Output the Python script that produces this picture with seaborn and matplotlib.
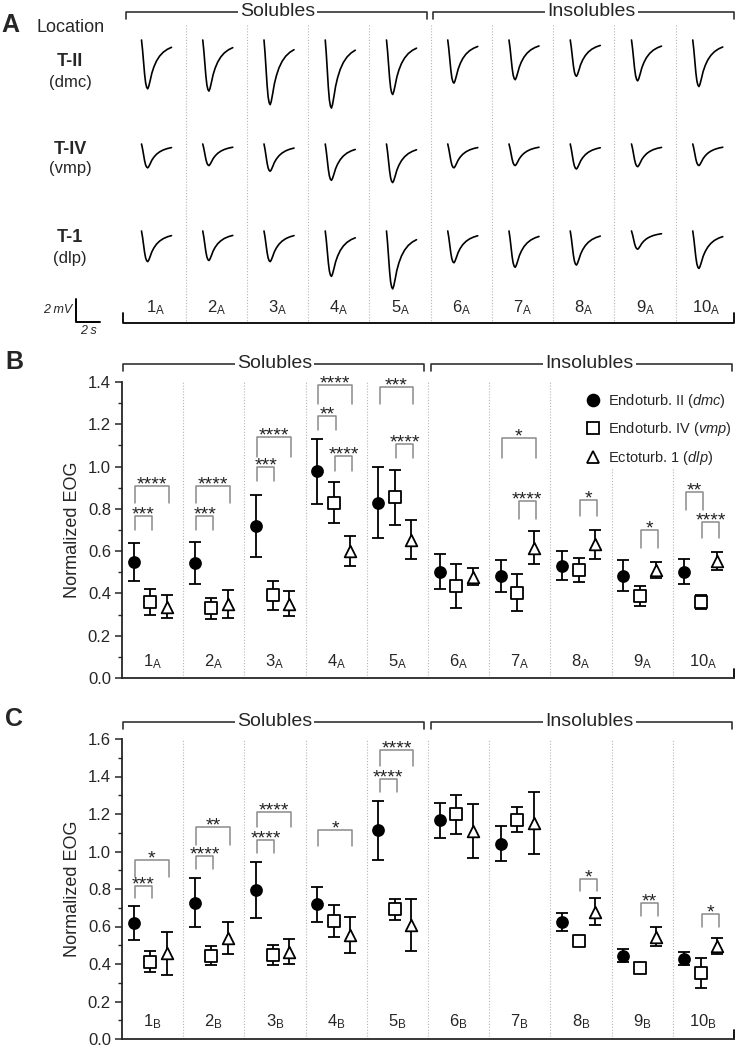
import numpy as np
import pandas as pd
import matplotlib
matplotlib.use("Agg")
import matplotlib.pyplot as plt
import seaborn as sns
from matplotlib.lines import Line2D
from matplotlib.ticker import MultipleLocator

# ---------------- data ----------------
series = ["Endoturb. II (dmc)", "Endoturb. IV (vmp)", "Ectoturb. 1 (dlp)"]
legend_labels = [r"Endoturb. II $\mathit{(dmc)}$",
                 r"Endoturb. IV $\mathit{(vmp)}$",
                 r"Ectoturb. 1 $\mathit{(dlp)}$"]
labels_A = ["1", "2", "3", "4", "5", "6", "7", "8", "9", "10"]

# panel A: EOG amplitudes (mV) of the example traces
amp_t2 = [4.3, 4.5, 5.7, 6.0, 4.8, 3.8, 3.5, 3.2, 3.6, 4.1]
amp_t4 = [2.1, 1.9, 2.4, 3.2, 3.4, 2.1, 1.9, 2.2, 2.0, 1.9]
amp_t1 = [2.7, 2.6, 2.7, 4.0, 5.1, 2.8, 3.2, 3.0, 1.6, 3.3]
# normalised shape of one EOG response (time fraction, depth fraction)
trace_t = [0, 1, 2, 3, 4, 5, 6, 7, 8.5, 10, 12, 14.5, 17.5, 21, 25, 29]
trace_v = [0, 0.2, 0.45, 0.7, 0.88, 0.97, 1.0, 0.95, 0.82, 0.68, 0.55,
           0.43, 0.33, 0.25, 0.19, 0.15]

# panel B (odorant set A): mean and SEM
b_dmc = [0.55, 0.545, 0.72, 0.977, 0.83, 0.503, 0.484, 0.531, 0.484, 0.503]
b_dmc_err = [0.09, 0.10, 0.147, 0.155, 0.17, 0.083, 0.076, 0.068, 0.074, 0.06]
b_vmp = [0.36, 0.33, 0.391, 0.83, 0.854, 0.435, 0.404, 0.511, 0.387, 0.36]
b_vmp_err = [0.06, 0.05, 0.07, 0.098, 0.128, 0.103, 0.089, 0.055, 0.048, 0.034]
b_dlp = [0.337, 0.35, 0.352, 0.60, 0.655, 0.48, 0.616, 0.632, 0.511, 0.554]
b_dlp_err = [0.055, 0.065, 0.058, 0.072, 0.09, 0.04, 0.079, 0.07, 0.04, 0.042]

# panel C (odorant set B)
c_dmc = [0.617, 0.727, 0.794, 0.718, 1.113, 1.166, 1.042, 0.622, 0.445, 0.429]
c_dmc_err = [0.09, 0.13, 0.15, 0.093, 0.158, 0.093, 0.092, 0.048, 0.035, 0.035]
c_vmp = [0.413, 0.445, 0.448, 0.631, 0.691, 1.198, 1.17, 0.525, 0.377, 0.351]
c_vmp_err = [0.055, 0.05, 0.053, 0.086, 0.058, 0.104, 0.067, 0.015, 0.012, 0.08]
c_dlp = [0.457, 0.54, 0.466, 0.555, 0.608, 1.108, 1.152, 0.679, 0.546, 0.496]
c_dlp_err = [0.115, 0.085, 0.068, 0.098, 0.137, 0.145, 0.167, 0.071, 0.05, 0.044]

# significance: (group, series a, series b, bracket top, leg bottom, stars)
sig_B = [(0, 0, 1, 0.767, 0.70, "***"), (0, 0, 2, 0.91, 0.83, "****"),
         (1, 0, 1, 0.767, 0.70, "***"), (1, 0, 2, 0.91, 0.83, "****"),
         (2, 0, 1, 1.00, 0.93, "***"), (2, 0, 2, 1.14, 1.045, "****"),
         (3, 0, 1, 1.24, 1.175, "**"), (3, 0, 2, 1.385, 1.297, "****"),
         (3, 1, 2, 1.05, 0.98, "****"),
         (4, 0, 2, 1.377, 1.297, "***"), (4, 1, 2, 1.105, 1.04, "****"),
         (6, 0, 2, 1.137, 1.04, "*"), (6, 1, 2, 0.837, 0.753, "****"),
         (7, 1, 2, 0.842, 0.764, "*"),
         (8, 1, 2, 0.702, 0.616, "*"),
         (9, 0, 1, 0.88, 0.795, "**"), (9, 1, 2, 0.74, 0.66, "****")]
sig_C = [(0, 0, 1, 0.815, 0.75, "***"), (0, 0, 2, 0.957, 0.865, "*"),
         (1, 0, 1, 0.976, 0.905, "****"), (1, 0, 2, 1.13, 1.033, "**"),
         (2, 0, 1, 1.063, 0.992, "****"), (2, 0, 2, 1.21, 1.13, "****"),
         (3, 0, 2, 1.116, 1.028, "*"),
         (4, 0, 1, 1.388, 1.317, "****"), (4, 0, 2, 1.54, 1.458, "****"),
         (7, 1, 2, 0.856, 0.789, "*"),
         (8, 1, 2, 0.723, 0.657, "**"),
         (9, 1, 2, 0.666, 0.599, "*")]

# ---------------- style ----------------
sns.set_style("ticks")
plt.rcParams["font.family"] = ["Liberation Sans", "DejaVu Sans"]
plt.rcParams["mathtext.fontset"] = "custom"
plt.rcParams["mathtext.rm"] = "Liberation Sans"
plt.rcParams["mathtext.it"] = "Liberation Sans:italic"

W, H = 735, 1048
fig = plt.figure(figsize=(W / 100, H / 100), dpi=100)

def frac(x0, y0, x1, y1):
    return [x0 / W, 1 - y1 / H, (x1 - x0) / W, (y1 - y0) / H]

offsets = [0.19, 0.46, 0.73]
markers = ["o", "s", "^"]
faces = ["black", "white", "white"]
sizes = [62, 66, 70]


def make_df(means, errs):
    rows = []
    for s, (m, e) in enumerate(zip(means, errs)):
        for g in range(10):
            rows.append({"series": series[s], "idx": s, "group": g,
                         "x": g + offsets[s], "mean": m[g], "err": e[g]})
    return pd.DataFrame(rows)


def data_panel(box, ymax, df, sig, sub, div_top, ylab_y):
    ax = fig.add_axes(frac(*box))
    for s in range(3):
        d = df[df["idx"] == s]
        ax.errorbar(d["x"], d["mean"], yerr=d["err"], fmt="none", ecolor="black",
                    elinewidth=1.3, capsize=4.3, capthick=1.3, zorder=2)
        sns.scatterplot(data=d, x="x", y="mean", marker=markers[s], s=sizes[s],
                        color=faces[s], edgecolor="black", linewidth=1.3,
                        zorder=3, ax=ax, legend=False)
    for g, a, b, top, bot, stars in sig:
        xa = g + offsets[a] + 0.02
        xb = g + offsets[b] + 0.03
        ax.plot([xa, xa, xb, xb], [bot, top, top, bot], color="#8a8a8a", lw=1.1,
                zorder=1)
        ax.annotate(stars, ((xa + xb) / 2, top), xytext=(0, -2.5),
                    textcoords="offset points", ha="center", va="baseline",
                    fontsize=14, color="#222222")
    for k in range(1, 10):
        ax.vlines(k, 0, div_top[k - 1], colors="#b5b5b5", linestyles=(0, (1, 1.6)),
                  lw=0.8, zorder=0)
    for g, lab in enumerate(labels_A):
        ax.text(g + 0.5, ylab_y, lab + r"$_{\mathregular{" + sub + "}}$",
                ha="center", va="center", fontsize=12)
    ax.set_xlim(0, 10)
    ax.set_ylim(0, ymax)
    ax.set_xticks([])
    ax.set_xlabel("")
    ax.yaxis.set_major_locator(MultipleLocator(0.2))
    ax.yaxis.set_minor_locator(MultipleLocator(0.1))
    ax.yaxis.set_major_formatter(plt.FuncFormatter(lambda v, p: f"{v:.1f}"))
    ax.tick_params(axis="y", which="major", length=5, width=1.1, labelsize=12, pad=3)
    ax.tick_params(axis="y", which="minor", length=3, width=1.0)
    sns.despine(ax=ax)
    for sp in ["left", "bottom"]:
        ax.spines[sp].set_linewidth(1.3)
    ax.plot([1, 1], [0, 0.03], transform=ax.transAxes, color="black", lw=1.3,
            clip_on=False)
    ax.set_ylabel("Normalized EOG", fontsize=13)
    ax.yaxis.set_label_coords(-0.067, 0.5)
    ax.patch.set_alpha(0)
    return ax


dfB = make_df([b_dmc, b_vmp, b_dlp], [b_dmc_err, b_vmp_err, b_dlp_err])
dfC = make_df([c_dmc, c_vmp, c_dlp], [c_dmc_err, c_vmp_err, c_dlp_err])

axB = data_panel((122, 382, 734, 678), 1.4, dfB, sig_B, "A",
                 [1.4] * 7 + [1.0, 1.0], 0.075)
axC = data_panel((122, 739, 734, 1039), 1.6, dfC, sig_C, "B",
                 [1.6] * 9, 0.09)

handles = [Line2D([], [], marker=m, ls="none", markersize=8.5, markerfacecolor=f,
                  markeredgecolor="black", markeredgewidth=1.3)
           for m, f in zip(markers, faces)]
axB.legend(handles, legend_labels, loc="upper left", bbox_to_anchor=(0.745, 0.99),
           frameon=False, fontsize=10.5, borderpad=0, handlelength=1.0,
           handletextpad=0.55, labelspacing=0.7)

# ---------------- overlay: panel A and decorations ----------------
ov = fig.add_axes([0, 0, 1, 1], zorder=10)
ov.set_xlim(0, W)
ov.set_ylim(H, 0)
ov.axis("off")
ov.patch.set_alpha(0)

PX_MV = 11.35
A_LEFT, A_STEP = 124.5, 61.25
TRACE_W = 30
row_top = [40, 144, 231]
for r, amps in enumerate([amp_t2, amp_t4, amp_t1]):
    for i, a in enumerate(amps):
        xs = A_LEFT + A_STEP * i + 17 + np.array(trace_t) / 29 * TRACE_W
        ys = row_top[r] + np.array(trace_v) * a * PX_MV
        ov.plot(xs, ys, color="black", lw=1.2)
for k in range(1, 10):
    ov.plot([A_LEFT + A_STEP * k] * 2, [25, 322], color="#b5b5b5",
            ls=(0, (1, 1.6)), lw=0.8)
for i, lab in enumerate(labels_A):
    ov.text(A_LEFT + A_STEP * (i + 0.5), 308, lab + r"$_{\mathregular{A}}$",
            ha="center", va="center", fontsize=12)
ov.plot([123, 123, 734, 734], [313, 322.7, 322.7, 313], color="black", lw=1.3)

# row labels
ov.text(10, 25, "A", fontsize=18, fontweight="bold", ha="center", va="center")
ov.text(37, 28, "Location", fontsize=13, ha="left", va="center")
for y1, y2, t1, t2 in [(62, 82, "T-II", "(dmc)"), (150, 168, "T-IV", "(vmp)"),
                       (238, 258, "T-1", "(dlp)")]:
    ov.text(70, y1, t1, fontsize=13, fontweight="bold", ha="center", va="center")
    ov.text(70, y2, t2, fontsize=12, ha="center", va="center")

# scale bar
ov.plot([76, 76, 100], [299, 322, 322], color="black", lw=1.4)
ov.text(72, 310, "2 mV", fontsize=9, style="italic", ha="right", va="center")
ov.text(88, 331, "2 s", fontsize=9, style="italic", ha="center", va="center")


def header(y, x0, x1, tx, label, tick=7):
    ov.plot([x0, x0, x1, x1], [y + tick, y, y, y + tick], color="#333333", lw=1.2)
    ov.text(tx, y, label, fontsize=14, ha="center", va="center",
            bbox=dict(facecolor="white", edgecolor="none", pad=1.5))


for y, xs in [(12, (126, 427, 433, 734)), (364, (123, 424, 431, 732)),
              (722, (123, 424, 431, 732))]:
    header(y, xs[0], xs[1], (xs[0] + xs[1]) / 2 + 1, "Solubles")
    header(y, xs[2], xs[3], (xs[2] + xs[3]) / 2 + 8, "Insolubles")

ov.text(14, 362, "B", fontsize=18, fontweight="bold", ha="center", va="center")
ov.text(14, 719, "C", fontsize=18, fontweight="bold", ha="center", va="center")

fig.savefig("out.png", dpi=100)
